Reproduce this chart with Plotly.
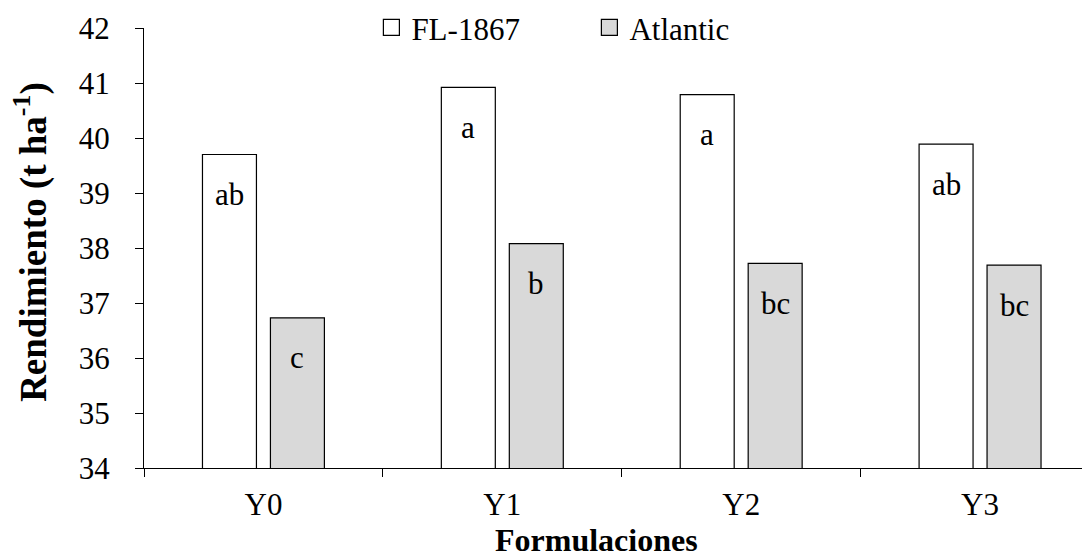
import plotly.graph_objects as go

categories = ["Y0", "Y1", "Y2", "Y3"]
fl1867 = [39.70, 40.92, 40.79, 39.89]
atlantic = [36.73, 38.08, 37.72, 37.69]
fl_labels = ["ab", "a", "a", "ab"]
atl_labels = ["c", "b", "bc", "bc"]
series_names = ["FL-1867", "Atlantic"]
y_ticks = [34, 35, 36, 37, 38, 39, 40, 41, 42]

FONT = "Liberation Serif, Times New Roman, serif"
FS = 31
YTFS = 37
XTFS = 32
OFF = 8  # default page body margin shifts the figure by 8px
W, H = 1090 - OFF, 557 - OFF
CAT_PX = 239.0
ML, MT = 143.5 - OFF, 27.7 - OFF
PH = 440.0
MR = 0
PW = W - ML - MR
MB = H - MT - PH

fig = go.Figure()
fig.add_trace(go.Bar(x=categories, y=fl1867, name=series_names[0], showlegend=False,
                     marker=dict(color="white", line=dict(color="black", width=1.2))))
fig.add_trace(go.Bar(x=categories, y=atlantic, name=series_names[1], showlegend=False,
                     marker=dict(color="#d9d9d9", line=dict(color="black", width=1.2))))
# legend entries
fig.add_trace(go.Scatter(x=[None], y=[None], mode="markers", name=series_names[0],
                         marker=dict(symbol="square", size=16, color="white",
                                     line=dict(color="black", width=1.2))))
fig.add_trace(go.Scatter(x=[None], y=[None], mode="markers", name=series_names[1],
                         marker=dict(symbol="square", size=16, color="#d9d9d9",
                                     line=dict(color="black", width=1.2))))

def px_x(sx):
    return (sx - OFF - ML) / PW

def px_y(sy):
    return (MT + PH - (sy - OFF)) / PH

ann = []
for c, v, t in zip(categories, fl1867, fl_labels):
    ann.append(dict(x=c, y=v, xref="x", yref="y", text=t, showarrow=False,
                    xshift=-34, yshift=-40, yanchor="middle",
                    font=dict(family=FONT, size=FS, color="black")))
for c, v, t in zip(categories, atlantic, atl_labels):
    ann.append(dict(x=c, y=v, xref="x", yref="y", text=t, showarrow=False,
                    xshift=34, yshift=-40, yanchor="middle",
                    font=dict(family=FONT, size=FS, color="black")))
ann.append(dict(x=px_x(31), y=px_y(242), xref="paper", yref="paper",
                text="<b>Rendimiento (t ha<sup>-1</sup>)</b>", textangle=-90,
                showarrow=False, xanchor="center", yanchor="middle",
                font=dict(family=FONT, size=YTFS, color="black")))
ann.append(dict(x=px_x(596), y=px_y(540),
                xref="paper", yref="paper", text="<b>Formulaciones</b>",
                showarrow=False, xanchor="center", yanchor="middle",
                font=dict(family=FONT, size=XTFS, color="black")))

fig.update_layout(
    width=W, height=H,
    margin=dict(l=ML, r=MR, t=MT, b=MB, autoexpand=False),
    paper_bgcolor="white", plot_bgcolor="white",
    barmode="group", bargap=1 - 136.0 / CAT_PX, bargroupgap=14.0 / 68.0,
    font=dict(family=FONT, size=FS, color="black"),
    annotations=ann,
    legend=dict(orientation="h", x=px_x(371), xanchor="left",
                y=px_y(27.5), yanchor="middle", bgcolor="rgba(0,0,0,0)",
                entrywidth=173, entrywidthmode="pixels",
                font=dict(family=FONT, size=FS, color="black")),
    xaxis=dict(range=[-0.5, -0.5 + PW / CAT_PX], showline=True, linecolor="black", linewidth=1.3,
               ticks="outside", ticklen=8, tickwidth=1.3, tickcolor="black",
               tickson="boundaries", showgrid=False, zeroline=False,
               ticklabelstandoff=9,
               tickfont=dict(family=FONT, size=FS, color="black")),
    yaxis=dict(range=[34, 42], tickvals=y_ticks, showline=True, linecolor="black", linewidth=1.3,
               ticks="outside", ticklen=8, tickwidth=1.3, tickcolor="black",
               showgrid=False, zeroline=False, ticklabelstandoff=19,
               tickfont=dict(family=FONT, size=FS, color="black")),
)

fig.write_html("out.html")
